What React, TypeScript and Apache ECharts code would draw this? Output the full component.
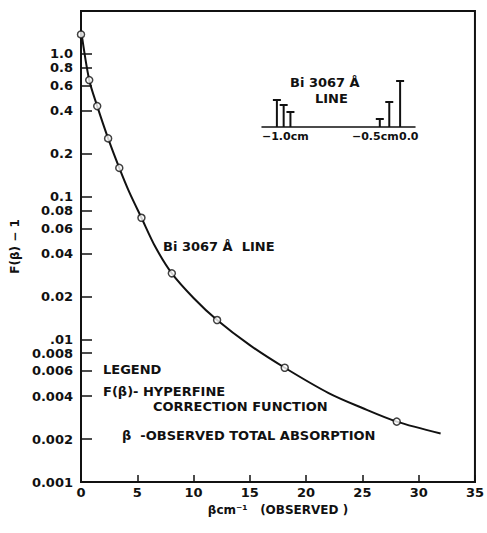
import React, { useEffect, useRef } from "react";
import * as echarts from "echarts";

// Main data: observed points (beta in cm^-1, F(beta)-1)
const betaObserved = [0, 0.73, 1.44, 2.41, 3.4, 5.37, 8.07, 12.09, 18.1, 28.05];
const fBetaMinusOne = [1.37, 0.656, 0.431, 0.256, 0.159, 0.0711, 0.029, 0.01365, 0.00632, 0.00265];

// Smooth fitted curve drawn through the points
const curveBeta = [0, 0.73, 1.44, 2.41, 3.4, 4.3, 5.37, 6.6, 8.07, 10, 12.09, 15, 18.1, 22, 25, 28.05, 31.95];
const curveF = [1.48, 0.656, 0.431, 0.256, 0.159, 0.107, 0.0711, 0.0445, 0.029, 0.0195, 0.01365, 0.0091, 0.00632, 0.0042, 0.0033, 0.00265, 0.00219];

// Axis ticks
const xTickValues = [0, 5, 10, 15, 20, 25, 30, 35];
const yTickValues = [1.0, 0.8, 0.6, 0.4, 0.2, 0.1, 0.08, 0.06, 0.04, 0.02, 0.01, 0.008, 0.006, 0.004, 0.002, 0.001];
const yTickLabels = ["1.0", "0.8", "0.6", "0.4", "0.2", "0.1", "0.08", "0.06", "0.04", "0.02", ".01", "0.008", "0.006", "0.004", "0.002", "0.001"];

// Inset: Bi 3067 Å line hyperfine components (position in cm, relative intensity)
const insetPositions = [-0.94, -0.89, -0.84, -0.18, -0.11, -0.03];
const insetIntensities = [0.54, 0.44, 0.3, 0.16, 0.5, 0.92];
const insetTickLabels = ["\u22121.0cm", "\u22120.5cm", "0.0"];

const FONT = "DejaVu Sans";
const INK = "#111";

export default function App() {
  const ref = useRef<HTMLDivElement>(null);

  useEffect(() => {
    if (!ref.current) return;
    const chart = echarts.init(ref.current, null, { renderer: "svg" });
    const yLog = yTickValues.map((v) => Math.log10(v));
    const labelFor = (v: number) => {
      for (let i = 0; i < yLog.length; i++) {
        if (Math.abs(yLog[i] - v) < 1e-6) return yTickLabels[i];
      }
      return "";
    };
    const txt = (left: number, top: number, text: string, size = 13) => ({
      type: "text",
      left,
      top,
      style: { text, fill: INK, font: `bold ${size}px "${FONT}"` },
    });

    const option: any = {
      animation: false,
      backgroundColor: "#fff",
      grid: [
        {
          left: 81,
          right: 10,
          top: 11,
          bottom: 51,
          show: true,
          borderColor: INK,
          borderWidth: 2,
          backgroundColor: "transparent",
        },
        { left: 262, top: 77, width: 153, height: 50, show: false },
      ],
      xAxis: [
        {
          gridIndex: 0,
          type: "value",
          min: 0,
          max: 35,
          interval: 5,
          name: "\u03b2cm\u207b\u00b9   (OBSERVED )",
          nameLocation: "middle",
          nameGap: 14,
          nameTextStyle: { color: INK, fontFamily: FONT, fontWeight: "bold", fontSize: 12 },
          axisLine: { onZero: false, lineStyle: { color: INK, width: 2 } },
          axisTick: { inside: true, length: 7, lineStyle: { color: INK, width: 1.5 }, customValues: xTickValues },
          axisLabel: {
            color: INK,
            fontFamily: FONT,
            fontWeight: "bold",
            fontSize: 13,
            margin: 4,
            customValues: xTickValues,
          },
          splitLine: { show: false },
        },
        {
          gridIndex: 1,
          type: "value",
          min: -1.05,
          max: 0.08,
          axisLine: { onZero: false, lineStyle: { color: INK, width: 1.5 } },
          axisTick: { show: false },
          axisLabel: { show: false },
          splitLine: { show: false },
        },
      ],
      yAxis: [
        {
          gridIndex: 0,
          type: "value",
          min: -3,
          max: Math.log10(2),
          name: "F(\u03b2) \u2212 1",
          nameLocation: "middle",
          nameGap: 50,
          nameTextStyle: { color: INK, fontFamily: FONT, fontWeight: "bold", fontSize: 12 },
          axisLine: { onZero: false, lineStyle: { color: INK, width: 2 } },
          axisTick: { inside: true, length: 11, lineStyle: { color: INK, width: 1.5 }, customValues: yLog },
          axisLabel: {
            color: INK,
            fontFamily: FONT,
            fontWeight: "bold",
            fontSize: 13,
            margin: 8,
            customValues: yLog,
            formatter: (v: number) => labelFor(v),
          },
          splitLine: { show: false },
        },
        {
          gridIndex: 1,
          type: "value",
          min: 0,
          max: 1,
          axisLine: { show: false },
          axisTick: { show: false },
          axisLabel: { show: false },
          splitLine: { show: false },
        },
      ],
      series: [
        {
          type: "line",
          xAxisIndex: 0,
          yAxisIndex: 0,
          data: curveBeta.map((b, i) => [b, Math.log10(curveF[i])]),
          smooth: 0.3,
          showSymbol: false,
          lineStyle: { color: INK, width: 2 },
          z: 2,
        },
        {
          type: "scatter",
          xAxisIndex: 0,
          yAxisIndex: 0,
          data: betaObserved.map((b, i) => [b, Math.log10(fBetaMinusOne[i])]),
          symbol: "circle",
          symbolSize: 7,
          itemStyle: { color: "#fff", borderColor: INK, borderWidth: 1.5 },
          z: 3,
        },
        {
          type: "custom",
          xAxisIndex: 1,
          yAxisIndex: 1,
          data: insetPositions.map((p, i) => [p, insetIntensities[i]]),
          renderItem: (params: any, api: any) => {
            const x = api.value(0);
            const h = api.value(1);
            const base = api.coord([x, 0]);
            const top = api.coord([x, h]);
            return {
              type: "group",
              children: [
                {
                  type: "line",
                  shape: { x1: base[0], y1: base[1], x2: top[0], y2: top[1] },
                  style: { stroke: INK, lineWidth: 2 },
                },
                {
                  type: "line",
                  shape: { x1: top[0] - 4, y1: top[1], x2: top[0] + 4, y2: top[1] },
                  style: { stroke: INK, lineWidth: 2 },
                },
              ],
            };
          },
        },
      ],
      graphic: [
        txt(163, 240, "Bi 3067 \u00c5  LINE"),
        txt(290, 76, "Bi 3067 \u00c5"),
        txt(315, 92, "LINE"),
        txt(262, 131, insetTickLabels[0], 11),
        txt(352, 131, insetTickLabels[1], 11),
        txt(399, 131, insetTickLabels[2], 11),
        txt(103, 363, "LEGEND"),
        txt(103, 385, "F(\u03b2)- HYPERFINE"),
        txt(153, 400, "CORRECTION FUNCTION"),
        txt(122, 429, "\u03b2  -OBSERVED TOTAL ABSORPTION"),
      ],
    };
    chart.setOption(option);
    return () => chart.dispose();
  }, []);

  return (
    <div
      ref={ref}
      style={{ position: "fixed", left: 0, top: 0, width: 487, height: 533, background: "#fff" }}
    />
  );
}
